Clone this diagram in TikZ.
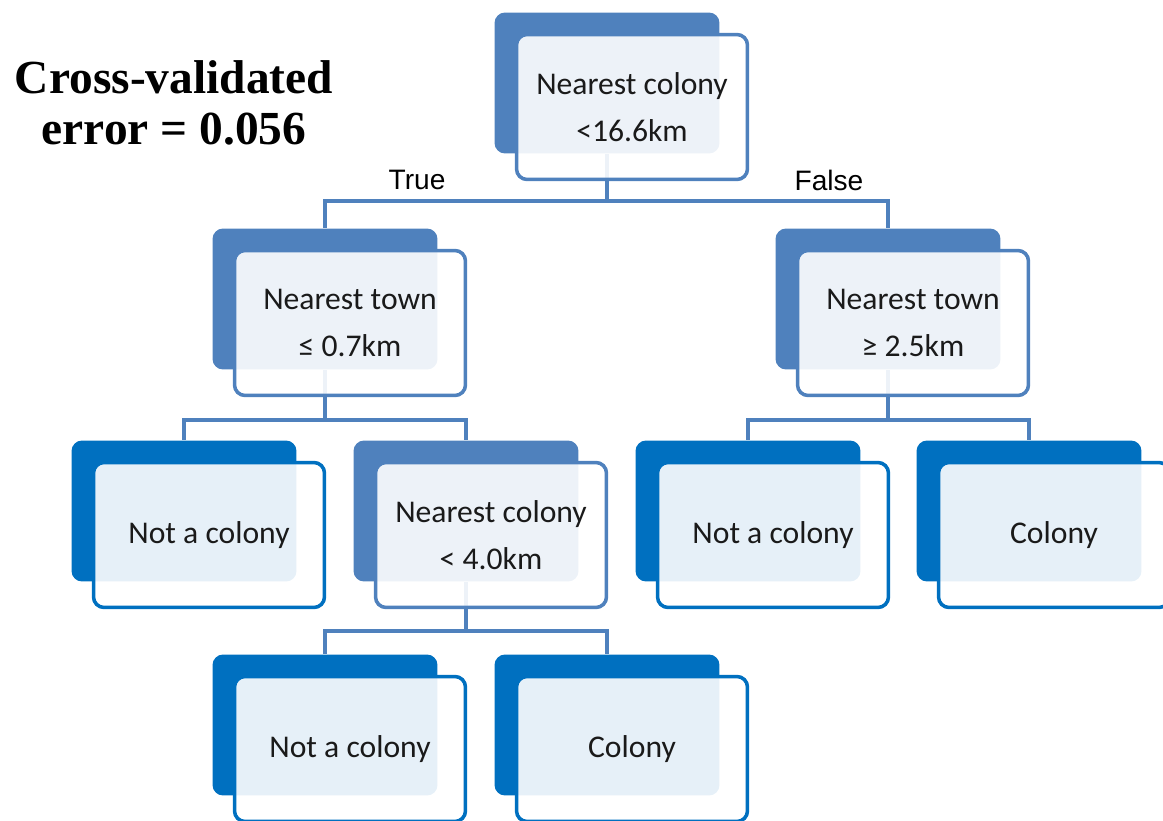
\documentclass[tikz,border=0pt]{standalone}
\usepackage{fontspec}
\setmainfont{Carlito}
\newfontfamily\labelfont{Liberation Sans}
\newfontfamily\headfont{Liberation Serif}
\usetikzlibrary{positioning,calc}
\definecolor{splitfill}{HTML}{4F81BD}
\definecolor{leaffill}{HTML}{0070C0}
\definecolor{ink}{HTML}{1A1A1A}

\begin{document}
\begin{tikzpicture}[
  x=0.02cm, y=-0.02cm,
  back/.style={rounded corners=6pt, minimum width=4.5cm, minimum height=2.82cm, inner sep=0pt},
  split/.style={back, fill=splitfill},
  leaf/.style={back, fill=leaffill},
  face/.style={rounded corners=6pt, line width=2pt, fill=white, fill opacity=0.9, text opacity=1,
    minimum width=4.62cm, minimum height=2.9cm, inner sep=0pt, align=center, text=ink,
    font=\fontsize{18}{27}\selectfont},
  sface/.style={face, draw=splitfill},
  lface/.style={face, draw=leaffill},
  link/.style={draw=splitfill, line width=2.2pt},
  lbl/.style={font=\labelfont\fontsize{16}{19}\selectfont, text=black, inner sep=0pt},
]
\useasboundingbox (0,0) rectangle (1163,821);

% ===== back plates (one per tree node) =====
\node[split] (rootb) at (607,83)  {};
\node[split] (tlb)   at (325,299) {};
\node[split] (trb)   at (888,299) {};
\node[leaf]  (l1b)   at (184,511) {};
\node[split] (midb)  at (466,511) {};
\node[leaf]  (l2b)   at (748,511) {};
\node[leaf]  (l3b)   at (1029,511) {};
\node[leaf]  (l4b)   at (325,725) {};
\node[leaf]  (l5b)   at (607,725) {};

% ===== connectors (behind the faces) =====
\draw[link] (rootb.south) -- ++(0,47) -| (tlb.north);
\draw[link] (rootb.south) -- ++(0,47) -| (trb.north);
\draw[link] (tlb.south) -- ++(0,50) -| (l1b.north);
\draw[link] (tlb.south) -- ++(0,50) -| (midb.north);
\draw[link] (trb.south) -- ++(0,50) -| (l2b.north);
\draw[link] (trb.south) -- ++(0,50) -| (l3b.north);
\draw[link] (midb.south) -- ++(0,49) -| (l4b.north);
\draw[link] (midb.south) -- ++(0,49) -| (l5b.north);

% ===== faces with the split rules =====
\node[sface] (root) at ($(rootb)+(25,24)$) {Nearest colony\\<16.6km};
\node[sface] (tl)   at ($(tlb)+(25,24)$)   {Nearest town\\≤ 0.7km};
\node[sface] (tr)   at ($(trb)+(25,24)$)   {Nearest town\\≥ 2.5km};
\node[lface] (l1)   at ($(l1b)+(25,24)$)   {Not a colony};
\node[sface] (mid)  at ($(midb)+(25,24)$)  {Nearest colony\\< 4.0km};
\node[lface] (l2)   at ($(l2b)+(25,24)$)   {Not a colony};
\node[lface] (l3)   at ($(l3b)+(25,24)$)   {Colony};
\node[lface] (l4)   at ($(l4b)+(25,24)$)   {Not a colony};
\node[lface] (l5)   at ($(l5b)+(25,24)$)   {Colony};

% ===== branch labels + score =====
\node[lbl] (yes) at (417,180) {True};
\node[lbl] (no)  at (829,180) {False};
\node[font=\headfont\bfseries\fontsize{27}{29}\selectfont, align=center, text=black, inner sep=0pt]
  (score) at (174,103) {Cross-validated\\error = 0.056};

\end{tikzpicture}
\end{document}
